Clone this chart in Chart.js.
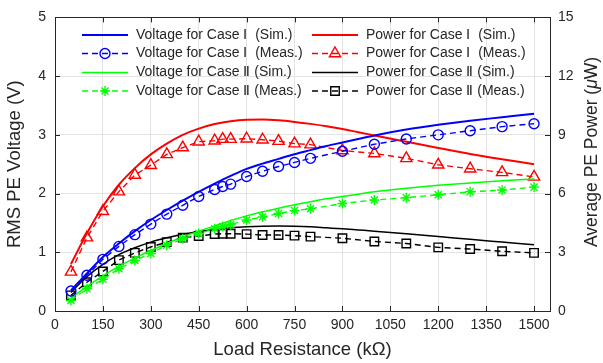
<!DOCTYPE html>
<html>
<head>
<meta charset="utf-8">
<script src="https://cdn.jsdelivr.net/npm/chart.js@4.4.1/dist/chart.umd.min.js"></script>
<style>
  html, body { margin: 0; padding: 0; background: #ffffff; }
  #wrap { width: 603px; height: 363px; }
</style>
</head>
<body>
<div id="wrap"><canvas id="chart" width="603" height="363"></canvas></div>
<script>
// Load resistance (kOhm) for the simulated curves
const simResistance = [50, 100, 150, 200, 250, 300, 350, 400, 450, 500, 550, 600, 650, 700, 750,
  800, 850, 900, 950, 1000, 1100, 1200, 1300, 1400, 1500];
// Load resistance (kOhm) for the measured points
const measResistance = [50, 100, 150, 200, 250, 300, 350, 400, 450, 500, 525, 550, 600, 650, 700,
  750, 800, 900, 1000, 1100, 1200, 1300, 1400, 1500];

// RMS PE voltage (V)
const voltageCase1Sim = [0.35, 0.64, 0.92, 1.15, 1.36, 1.55, 1.72, 1.88, 2.03, 2.17, 2.30, 2.42, 2.51,
  2.59, 2.67, 2.74, 2.81, 2.87, 2.93, 2.99, 3.09, 3.17, 3.24, 3.30, 3.36];
const voltageCase1Meas = [0.34, 0.61, 0.88, 1.10, 1.30, 1.48, 1.65, 1.80, 1.95, 2.07, 2.12, 2.16, 2.29,
  2.38, 2.46, 2.53, 2.60, 2.72, 2.84, 2.93, 3.00, 3.07, 3.14, 3.19];
const voltageCase2Sim = [0.22, 0.42, 0.60, 0.76, 0.90, 1.03, 1.15, 1.26, 1.36, 1.45, 1.54, 1.62, 1.69,
  1.75, 1.81, 1.86, 1.91, 1.95, 1.99, 2.03, 2.09, 2.14, 2.18, 2.22, 2.25];
const voltageCase2Meas = [0.18, 0.38, 0.54, 0.72, 0.86, 0.98, 1.12, 1.23, 1.32, 1.40, 1.44, 1.47, 1.55,
  1.60, 1.66, 1.71, 1.74, 1.83, 1.89, 1.93, 1.98, 2.03, 2.06, 2.11];

// Average PE power (uW)
const powerCase1Sim = [2.4, 3.97, 5.35, 6.45, 7.3, 8.0, 8.55, 9.0, 9.32, 9.55, 9.7, 9.77, 9.78,
  9.74, 9.66, 9.56, 9.44, 9.3, 9.13, 8.97, 8.65, 8.33, 8.02, 7.75, 7.5];
const powerCase1Meas = [2.0, 3.75, 5.1, 6.1, 6.95, 7.45, 8.0, 8.35, 8.65, 8.7, 8.78, 8.78, 8.8,
  8.75, 8.68, 8.55, 8.5, 8.2, 8.05, 7.8, 7.47, 7.27, 7.08, 6.85];
const powerCase2Sim = [0.95, 1.75, 2.38, 2.88, 3.23, 3.52, 3.74, 3.92, 4.06, 4.17, 4.25, 4.3, 4.33,
  4.34, 4.33, 4.3, 4.25, 4.2, 4.14, 4.08, 3.95, 3.81, 3.66, 3.52, 3.38];
const powerCase2Meas = [0.8, 1.47, 2.02, 2.6, 2.97, 3.27, 3.52, 3.75, 3.83, 3.93, 3.95, 3.95, 3.93,
  3.88, 3.88, 3.85, 3.8, 3.72, 3.55, 3.45, 3.25, 3.17, 3.05, 2.97];

// Axis ticks
const xTicks = [0, 150, 300, 450, 600, 750, 900, 1050, 1200, 1350, 1500];
const voltageTicks = [0, 1, 2, 3, 4, 5];
const powerTicks = [0, 3, 6, 9, 12, 15];

const FONT = '"Liberation Sans", Arial, Helvetica, sans-serif';
const AXIS_COLOR = '#262626';
const GRID_COLOR = '#e3e3e3';
const DASH = [6, 4];

function pairs(xs, ys) { return xs.map((x, i) => ({ x: x, y: ys[i] })); }

function simSet(label, xs, ys, color, width, axis) {
  return {
    label: label, data: pairs(xs, ys), yAxisID: axis,
    borderColor: color, backgroundColor: color, borderWidth: width,
    pointRadius: 0, pointHoverRadius: 0, fill: false,
    cubicInterpolationMode: 'monotone'
  };
}
function measSet(label, xs, ys, color, style, radius, axis) {
  return {
    label: label, data: pairs(xs, ys), yAxisID: axis,
    borderColor: color, backgroundColor: 'rgba(0,0,0,0)', borderWidth: 1.4,
    borderDash: DASH, fill: false, tension: 0,
    pointStyle: style, pointRadius: radius, pointHoverRadius: radius,
    pointBorderColor: color, pointBackgroundColor: 'rgba(0,0,0,0)', pointBorderWidth: 1.4
  };
}

const datasets = [
  simSet('Voltage for Case Ⅰ  (Sim.)', simResistance, voltageCase1Sim, '#0000ff', 2, 'y'),
  measSet('Voltage for Case Ⅰ  (Meas.)', measResistance, voltageCase1Meas, '#0000ff', 'circle', 5, 'y'),
  simSet('Voltage for Case Ⅱ (Sim.)', simResistance, voltageCase2Sim, '#00ff00', 1.5, 'y'),
  measSet('Voltage for Case Ⅱ (Meas.)', measResistance, voltageCase2Meas, '#00ff00', 'star', 5, 'y'),
  simSet('Power for Case Ⅰ  (Sim.)', simResistance, powerCase1Sim, '#ff0000', 2, 'y2'),
  measSet('Power for Case Ⅰ  (Meas.)', measResistance, powerCase1Meas, '#ff0000', 'triangle', 6.5, 'y2'),
  simSet('Power for Case Ⅱ (Sim.)', simResistance, powerCase2Sim, '#000000', 1.5, 'y2'),
  measSet('Power for Case Ⅱ (Meas.)', measResistance, powerCase2Meas, '#000000', 'rect', 6, 'y2')
];

function line(ctx, x0, y0, x1, y1) {
  ctx.beginPath(); ctx.moveTo(x0, y0); ctx.lineTo(x1, y1); ctx.stroke();
}

// Box outline on top and inward tick marks on every side
const framePlugin = {
  id: 'frame',
  afterDatasetsDraw(chart) {
    const ctx = chart.ctx, a = chart.chartArea;
    const xs = chart.scales.x, yl = chart.scales.y, yr = chart.scales.y2;
    ctx.save();
    ctx.strokeStyle = AXIS_COLOR; ctx.lineWidth = 1;
    line(ctx, a.left, Math.round(a.top) + 0.5, a.right, Math.round(a.top) + 0.5);
    const len = 5;
    xs.ticks.forEach(t => {
      const p = Math.round(xs.getPixelForValue(t.value)) + 0.5;
      line(ctx, p, a.bottom, p, a.bottom - len);
      line(ctx, p, a.top, p, a.top + len);
    });
    yl.ticks.forEach(t => {
      const p = Math.round(yl.getPixelForValue(t.value)) + 0.5;
      line(ctx, a.left, p, a.left + len, p);
    });
    yr.ticks.forEach(t => {
      const p = Math.round(yr.getPixelForValue(t.value)) + 0.5;
      line(ctx, a.right, p, a.right - len, p);
    });
    ctx.restore();
  }
};

// Two-column legend inside the plot area
const legendPlugin = {
  id: 'twoColumnLegend',
  afterDatasetsDraw(chart) {
    const ctx = chart.ctx;
    const cols = [{ sx: 82, tx: 136, items: [0, 1, 2, 3] }, { sx: 312, tx: 366, items: [4, 5, 6, 7] }];
    const rowY = [35, 53.5, 72.5, 91];
    ctx.save();
    ctx.font = '14px ' + FONT;
    ctx.textBaseline = 'middle';
    ctx.textAlign = 'left';
    cols.forEach(col => {
      col.items.forEach((di, r) => {
        const ds = chart.data.datasets[di];
        const y = rowY[r];
        const x0 = col.sx, x1 = col.sx + 46;
        ctx.save();
        ctx.strokeStyle = ds.borderColor;
        ctx.lineWidth = ds.borderWidth;
        ctx.setLineDash(ds.borderDash || []);
        line(ctx, x0, y, x1, y);
        ctx.setLineDash([]);
        if (ds.pointRadius > 0) {
          ctx.fillStyle = 'rgba(0,0,0,0)';
          ctx.lineWidth = ds.pointBorderWidth;
          Chart.helpers.drawPoint(ctx, {
            pointStyle: ds.pointStyle, radius: ds.pointRadius,
            borderWidth: ds.pointBorderWidth, rotation: 0
          }, (x0 + x1) / 2, y);
        }
        ctx.restore();
        ctx.fillStyle = '#262626';
        ctx.fillText(ds.label, col.tx, y);
      });
    });
    ctx.restore();
  }
};

// Axis titles
const titlePlugin = {
  id: 'axisTitles',
  afterDraw(chart) {
    const ctx = chart.ctx, a = chart.chartArea;
    const midY = (a.top + a.bottom) / 2;
    ctx.save();
    ctx.fillStyle = '#262626';
    ctx.textBaseline = 'middle';
    ctx.textAlign = 'center';
    ctx.font = '18.5px ' + FONT;
    ctx.fillText('Load Resistance (kΩ)', (a.left + a.right) / 2, 350);

    ctx.save();
    ctx.translate(15, midY);
    ctx.rotate(-Math.PI / 2);
    ctx.fillText('RMS PE Voltage (V)', 0, 0);
    ctx.restore();

    // right title with an italic mu
    const size = '17.5px ';
    const parts = [
      { t: 'Average PE Power (', f: size + FONT },
      { t: 'μ', f: 'italic ' + size + FONT },
      { t: 'W)', f: size + FONT }
    ];
    let total = 0;
    parts.forEach(p => { ctx.font = p.f; p.w = ctx.measureText(p.t).width; total += p.w; });
    ctx.save();
    ctx.translate(592, 152);
    ctx.rotate(-Math.PI / 2);
    ctx.textAlign = 'left';
    let x = -total / 2;
    parts.forEach(p => { ctx.font = p.f; ctx.fillText(p.t, x, 0); x += p.w; });
    ctx.restore();
    ctx.restore();
  }
};

const tickFont = { family: FONT, size: 14 };
const plainLabel = v => String(v);

new Chart(document.getElementById('chart'), {
  type: 'line',
  data: { datasets: datasets },
  options: {
    responsive: false,
    animation: false,
    devicePixelRatio: 1,
    layout: { padding: { top: 11, left: 0, right: 0, bottom: 0 } },
    plugins: { legend: { display: false }, tooltip: { enabled: false }, title: { display: false } },
    scales: {
      x: {
        type: 'linear', min: 0, max: 1550,
        afterFit(s) { s.height = 52; },
        afterBuildTicks(s) { s.ticks = xTicks.map(v => ({ value: v })); },
        ticks: { font: tickFont, color: '#262626', padding: 6, maxRotation: 0, autoSkip: false, callback: plainLabel },
        grid: { color: GRID_COLOR, drawTicks: false },
        border: { display: true, color: AXIS_COLOR, width: 1 }
      },
      y: {
        type: 'linear', position: 'left', min: 0, max: 5,
        afterFit(s) { s.width = 55; },
        afterBuildTicks(s) { s.ticks = voltageTicks.map(v => ({ value: v })); },
        ticks: { font: tickFont, color: '#262626', padding: 9, callback: plainLabel },
        grid: { color: GRID_COLOR, drawTicks: false },
        border: { display: true, color: AXIS_COLOR, width: 1 }
      },
      y2: {
        type: 'linear', position: 'right', min: 0, max: 15,
        afterFit(s) { s.width = 53; },
        afterBuildTicks(s) { s.ticks = powerTicks.map(v => ({ value: v })); },
        ticks: { font: tickFont, color: '#262626', padding: 8, callback: plainLabel },
        grid: { drawOnChartArea: false, drawTicks: false },
        border: { display: true, color: AXIS_COLOR, width: 1 }
      }
    }
  },
  plugins: [framePlugin, legendPlugin, titlePlugin]
});
</script>
</body>
</html>
